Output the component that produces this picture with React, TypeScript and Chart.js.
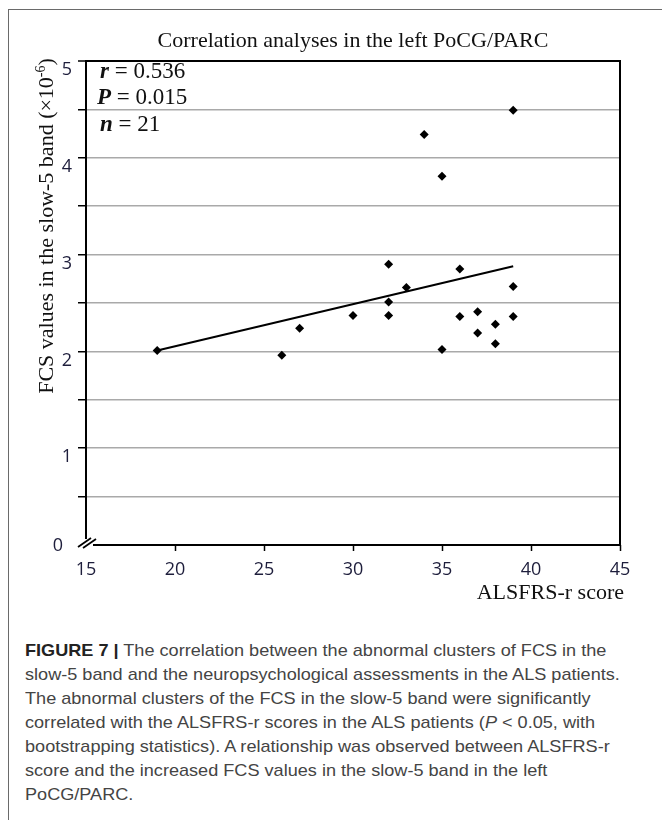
import React, { useEffect, useRef } from "react";
import { Chart, registerables } from "chart.js";

Chart.register(...registerables);

// ---- data ----
const scoreValues = [19, 26, 27, 30, 32, 32, 32, 33, 34, 35, 35, 36, 36, 37, 37, 38, 38, 39, 39, 39];
const fcsValues = [2.01, 1.96, 2.24, 2.37, 2.9, 2.51, 2.37, 2.66, 4.24, 3.81, 2.02, 2.85, 2.36, 2.41, 2.19, 2.28, 2.08, 4.49, 2.67, 2.36];
const fitX = [19, 39];
const fitY = [2.01, 2.88];
const xTickValues = [15, 20, 25, 30, 35, 40, 45];
const yLabelValues = [1, 2, 3, 4, 5];
const statLines = [
  { sym: "r", text: " = 0.536" },
  { sym: "P", text: " = 0.015" },
  { sym: "n", text: " = 21" },
];
const chartTitle = "Correlation analyses in the left PoCG/PARC";
const yTitleMain = "FCS values in the slow-5 band (\u00d710";
const yTitleSup = "-6";
const yTitleEnd = ")";
const xTitle = "ALSFRS-r score";

const SERIF = "'Liberation Serif', 'Times New Roman', serif";
const TICK_FONT = "'Open Sans', sans-serif";
const TICK_COLOR = "#1e1e3c";
const TICK_SIZE = 18;

const overlayPlugin = {
  id: "overlay",
  afterDraw(chart: any) {
    const { ctx, chartArea } = chart;
    const ys = chart.scales.y;
    const L = chartArea.left;
    const R = chartArea.right;
    const T = chartArea.top;
    const B = chartArea.bottom;
    ctx.save();
    // axes
    ctx.strokeStyle = "#000";
    ctx.lineWidth = 2;
    ctx.beginPath();
    ctx.moveTo(L, T - 1);
    ctx.lineTo(L, B - 6);
    ctx.moveTo(L + 7, B);
    ctx.lineTo(R + 1, B);
    ctx.moveTo(R, T - 1);
    ctx.lineTo(R, B);
    ctx.stroke();
    // axis break
    ctx.lineWidth = 1.8;
    ctx.beginPath();
    ctx.moveTo(L - 8, B + 2);
    ctx.lineTo(L + 5, B - 7);
    ctx.moveTo(L - 3, B + 3);
    ctx.lineTo(L + 10, B - 6);
    ctx.stroke();

    // "0" y label
    ctx.fillStyle = TICK_COLOR;
    ctx.font = `${TICK_SIZE}px ${TICK_FONT}`;
    ctx.textAlign = "center";
    ctx.textBaseline = "middle";
    ctx.fillText("0", L - 28, ys.getPixelForValue(0) + 1);

    // title
    ctx.fillStyle = "#111";
    ctx.font = `22px ${SERIF}`;
    ctx.textAlign = "center";
    ctx.textBaseline = "alphabetic";
    ctx.fillText(chartTitle, (L + R) / 2, 47);

    // x title
    ctx.textAlign = "right";
    ctx.fillText(xTitle, R + 4, 599);

    // y title (rotated)
    ctx.font = `22px ${SERIF}`;
    const wMain = ctx.measureText(yTitleMain).width;
    ctx.font = `14px ${SERIF}`;
    const wSup = ctx.measureText(yTitleSup).width;
    ctx.font = `22px ${SERIF}`;
    const wEnd = ctx.measureText(yTitleEnd).width;
    const total = wMain + wSup + wEnd;
    const centerY = 226;
    ctx.translate(53, centerY + total / 2);
    ctx.rotate(-Math.PI / 2);
    ctx.textAlign = "left";
    ctx.fillText(yTitleMain, 0, 0);
    ctx.font = `14px ${SERIF}`;
    ctx.fillText(yTitleSup, wMain, -8);
    ctx.font = `22px ${SERIF}`;
    ctx.fillText(yTitleEnd, wMain + wSup, 0);
    ctx.setTransform(1, 0, 0, 1, 0, 0);

    // stats
    const baselines = [78, 104, 131];
    const starts = [L + 14, L + 11, L + 14];
    statLines.forEach((s, i) => {
      ctx.textAlign = "left";
      ctx.font = `italic bold 23px ${SERIF}`;
      ctx.fillStyle = "#111";
      ctx.fillText(s.sym, starts[i], baselines[i]);
      const w = ctx.measureText(s.sym).width;
      ctx.font = `23px ${SERIF}`;
      ctx.fillText(s.text, starts[i] + w, baselines[i]);
    });
    ctx.restore();
  },
};

function ScatterChart() {
  const ref = useRef<HTMLCanvasElement | null>(null);
  useEffect(() => {
    if (!ref.current) return;
    const points = scoreValues.map((x, i) => ({ x, y: fcsValues[i] }));
    const fit = fitX.map((x, i) => ({ x, y: fitY[i] }));
    const chart = new Chart(ref.current, {
      type: "scatter",
      data: {
        datasets: [
          {
            type: "line",
            data: fit,
            borderColor: "#000",
            borderWidth: 2,
            pointRadius: 0,
            fill: false,
          } as any,
          {
            data: points,
            pointStyle: "rectRot",
            pointRadius: 4.5,
            backgroundColor: "#000",
            borderColor: "#000",
            borderWidth: 0,
          },
        ],
      },
      options: {
        responsive: false,
        animation: false,
        devicePixelRatio: 1,
        layout: { padding: { top: 61, right: 42, left: 0, bottom: 0 } },
        plugins: {
          legend: { display: false },
          tooltip: { enabled: false },
          title: { display: false },
        },
        scales: {
          x: {
            type: "linear",
            min: 15,
            max: 45,
            afterBuildTicks: (scale: any) => {
              scale.ticks = xTickValues.map((v) => ({ value: v }));
            },
            afterFit: (scale: any) => {
              scale.height = 85;
            },
            border: { display: false },
            grid: {
              drawOnChartArea: false,
              drawTicks: true,
              tickLength: 6,
              tickWidth: 1.5,
              tickColor: (c: any) => (c.tick && c.tick.value === 15 ? "rgba(0,0,0,0)" : "#000"),
            },
            ticks: {
              padding: 8,
              color: TICK_COLOR,
              font: { family: TICK_FONT, size: TICK_SIZE },
              maxRotation: 0,
              callback: (v: any) => String(v),
            },
          },
          y: {
            type: "linear",
            min: 0,
            max: 5,
            afterFit: (scale: any) => {
              scale.width = 86;
            },
            border: { display: false },
            grid: {
              drawTicks: true,
              tickLength: 8,
              tickWidth: 1.5,
              lineWidth: (c: any) => (c.tick && c.tick.value === 5 ? 2 : 1.5),
              color: (c: any) => {
                const v = c.tick ? c.tick.value : null;
                if (v === 0) return "rgba(0,0,0,0)";
                if (v === 5) return "#000";
                return "#a9a9a9";
              },
              tickColor: (c: any) => (c.tick && c.tick.value === 0 ? "rgba(0,0,0,0)" : "#000"),
            },
            ticks: {
              stepSize: 0.5,
              padding: 6,
              labelOffset: 9,
              color: TICK_COLOR,
              font: { family: TICK_FONT, size: TICK_SIZE },
              callback: (v: any) => (yLabelValues.includes(v) ? String(v) : ""),
            },
          },
        },
      },
      plugins: [overlayPlugin],
    });
    return () => chart.destroy();
  }, []);
  return <canvas ref={ref} width={662} height={630} style={{ position: "absolute", left: 0, top: 0 }} />;
}

export default function App() {
  const lineStyle: React.CSSProperties = { whiteSpace: "nowrap" };
  return (
    <div
      style={{
        position: "absolute",
        left: 0,
        top: 0,
        width: 662,
        height: 820,
        overflow: "hidden",
        background: "#fff",
      }}
    >
      <ScatterChart />
      <div style={{ position: "absolute", left: 8, top: 9, width: 654, height: 1, background: "#6a6a6a" }} />
      <div style={{ position: "absolute", left: 8, top: 9, width: 1, height: 811, background: "#6a6a6a" }} />
      <div
        style={{
          position: "absolute",
          left: 25,
          top: 639,
          fontFamily: "'Liberation Sans', Arial, sans-serif",
          fontSize: 17,
          lineHeight: "24px",
          color: "#444",
          transform: "scaleX(1.065)",
          transformOrigin: "0 0",
        }}
      >
        <div style={lineStyle}>
          <b style={{ color: "#222" }}>FIGURE 7 |</b> The correlation between the abnormal clusters of FCS in the
        </div>
        <div style={lineStyle}>slow-5 band and the neuropsychological assessments in the ALS patients.</div>
        <div style={lineStyle}>The abnormal clusters of the FCS in the slow-5 band were significantly</div>
        <div style={lineStyle}>
          correlated with the ALSFRS-r scores in the ALS patients (<i>P</i> &lt; 0.05, with
        </div>
        <div style={lineStyle}>bootstrapping statistics). A relationship was observed between ALSFRS-r</div>
        <div style={lineStyle}>score and the increased FCS values in the slow-5 band in the left</div>
        <div style={lineStyle}>PoCG/PARC.</div>
      </div>
    </div>
  );
}
